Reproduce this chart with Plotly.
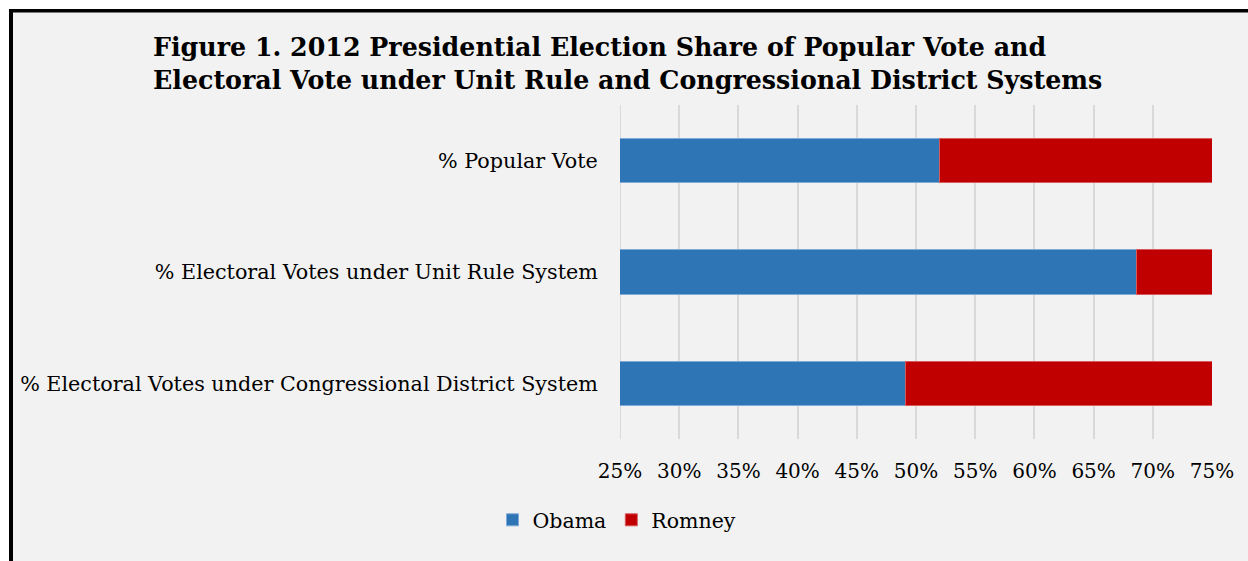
import plotly.graph_objects as go

# Share of vote (%) by counting system, 2012
categories = [
    "% Popular Vote",
    "% Electoral Votes under Unit Rule System",
    "% Electoral Votes under Congressional District System",
]
obama = [52.0, 68.6, 49.1]
romney = [48.0, 31.4, 50.9]

tick_vals = [25, 30, 35, 40, 45, 50, 55, 60, 65, 70, 75]
tick_text = ["25%", "30%", "35%", "40%", "45%", "50%", "55%", "60%", "65%", "70%", "75%"]

W, H = 1248, 561
PX0, PX1 = 620, 1212      # plot area, px
PY0, PY1 = 105, 439


def px(x):
    return (x - PX0) / (PX1 - PX0)


def py(y):
    return (PY1 - y) / (PY1 - PY0)


SERIF = "DejaVu Serif"
GRID = "#d9d9d9"

fig = go.Figure()
fig.add_trace(go.Bar(
    y=categories, x=obama, name="Obama", orientation="h",
    marker=dict(color="#2e75b6", line=dict(color="#7ea9d8", width=1)),
))
fig.add_trace(go.Bar(
    y=categories, x=romney, name="Romney", orientation="h",
    marker=dict(color="#c00000", line=dict(color="#d85a5a", width=1)),
))

shapes = [
    # gridline on the left edge of the value axis
    dict(type="line", xref="x", yref="paper", x0=25, x1=25, y0=0, y1=1,
         line=dict(color=GRID, width=2), layer="below"),
    # white page outside the frame
    dict(type="rect", xref="paper", yref="paper", x0=px(0), x1=px(W), y0=py(0), y1=py(9),
         fillcolor="white", line=dict(width=0), layer="above"),
    dict(type="rect", xref="paper", yref="paper", x0=px(0), x1=px(9), y0=py(0), y1=py(H),
         fillcolor="white", line=dict(width=0), layer="above"),
    # black frame, top and left
    dict(type="rect", xref="paper", yref="paper", x0=px(9), x1=px(W), y0=py(9), y1=py(12.5),
         fillcolor="black", line=dict(width=0), layer="above"),
    dict(type="rect", xref="paper", yref="paper", x0=px(9), x1=px(13), y0=py(9), y1=py(H),
         fillcolor="black", line=dict(width=0), layer="above"),
]

fig.update_layout(
    width=W, height=H,
    barmode="stack", bargap=0.6,
    paper_bgcolor="#f2f2f2", plot_bgcolor="#f2f2f2",
    margin=dict(l=PX0, r=W - PX1, t=PY0, b=H - PY1, pad=0),
    font=dict(family=SERIF, color="#000000"),
    shapes=shapes,
    annotations=[dict(
        text="<b>Figure 1. 2012 Presidential Election Share of Popular Vote and<br>"
             "Electoral Vote under Unit Rule and Congressional District Systems</b>",
        xref="paper", yref="paper", x=px(151), y=py(30),
        xanchor="left", yanchor="top", align="left", showarrow=False,
        font=dict(family=SERIF, size=25.3, color="#000000"),
    )],
    xaxis=dict(
        range=[25, 75], tickmode="array", tickvals=tick_vals, ticktext=tick_text,
        showgrid=True, gridcolor=GRID, gridwidth=2,
        zeroline=False, showline=False,
        ticks="outside", ticklen=14, tickcolor="rgba(0,0,0,0)",
        tickfont=dict(family=SERIF, size=20, color="#000000"),
        fixedrange=True,
    ),
    yaxis=dict(
        categoryorder="array", categoryarray=categories[::-1],
        showgrid=False, zeroline=False, showline=False,
        ticks="outside", ticklen=17, tickcolor="rgba(0,0,0,0)",
        tickfont=dict(family=SERIF, size=20.7, color="#000000"),
        fixedrange=True,
    ),
    legend=dict(
        orientation="h", x=px(617), y=py(520), xanchor="center", yanchor="middle",
        font=dict(family=SERIF, size=20.5, color="#000000"),
        bgcolor="rgba(0,0,0,0)", traceorder="normal",
        itemwidth=30,
    ),
    showlegend=True,
)

fig.write_html("out.html")
